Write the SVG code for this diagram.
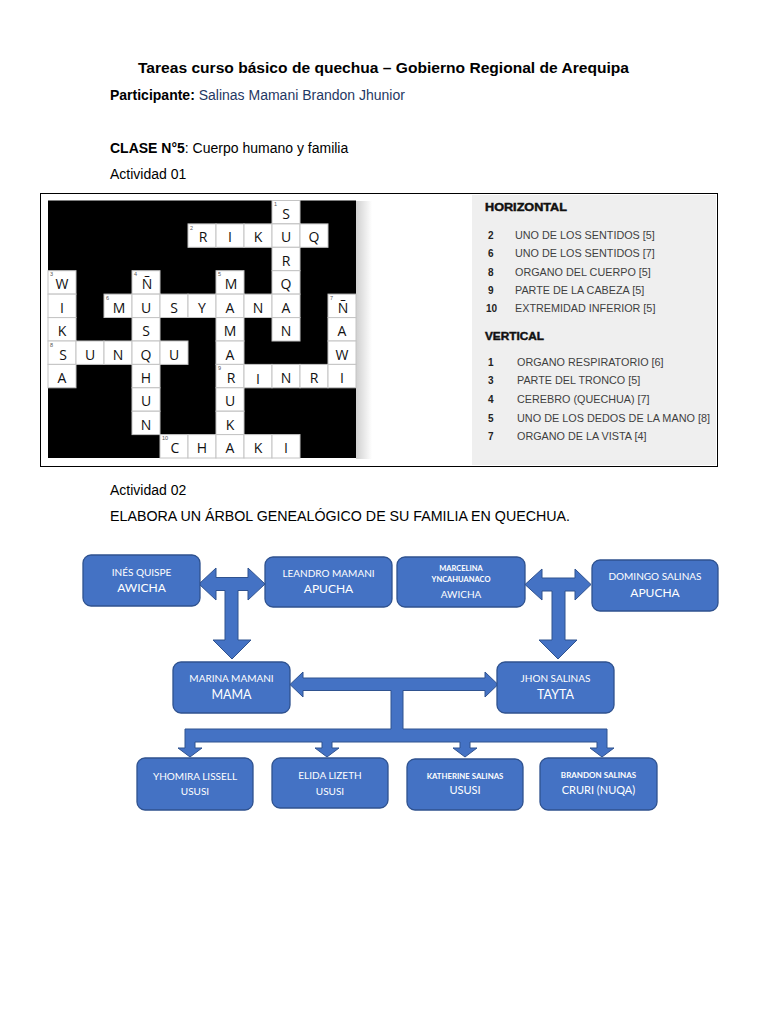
<svg xmlns="http://www.w3.org/2000/svg" width="768" height="1024" viewBox="0 0 768 1024">
<defs>
<style>
.hd{font-family:"Liberation Sans",Arial,sans-serif;font-size:14px;fill:#000}
.b{font-weight:bold}
.c{fill:#fff;stroke:#c4c4c4;stroke-width:1}
.l{font-family:"Open Sans","Liberation Sans",sans-serif;font-size:14px;fill:#111;text-anchor:middle}
.n{font-family:"Liberation Sans",sans-serif;font-size:5.5px;fill:#555}
.ch{font-family:"Liberation Sans",Arial,sans-serif;font-size:11px;font-weight:bold;fill:#111;stroke:#111;stroke-width:0.45}
.cn{font-family:"Liberation Sans",Arial,sans-serif;font-size:10px;font-weight:bold;fill:#222}
.ct{font-family:"Liberation Sans",Arial,sans-serif;font-size:10.8px;fill:#3f3f3f}
.box{fill:#4472c4;stroke:#2f528f;stroke-width:1.3}
.t{font-family:Lato,"Liberation Sans",sans-serif;fill:#fff;text-anchor:middle}
.conn{fill:#4472c4;stroke:#2f528f;stroke-width:1;stroke-linejoin:miter}
</style>
<linearGradient id="sh" x1="0" y1="0" x2="1" y2="0">
<stop offset="0" stop-color="#d0d0d0"/>
<stop offset="1" stop-color="#fff"/>
</linearGradient>
</defs>
<rect width="768" height="1024" fill="#fff"/>

<g id="header">
<text class="hd b" x="383.5" y="73" text-anchor="middle" font-size="14.5" textLength="491" lengthAdjust="spacingAndGlyphs">Tareas curso básico de quechua – Gobierno Regional de Arequipa</text>
<text class="hd" x="110" y="100"><tspan class="b">Participante:</tspan><tspan fill="#1f3864"> Salinas Mamani Brandon Jhunior</tspan></text>
<text class="hd" x="110" y="153"><tspan class="b">CLASE N°5</tspan>: Cuerpo humano y familia</text>
<text class="hd" x="110" y="179">Actividad 01</text>
<text class="hd" x="110" y="495">Actividad 02</text>
<text class="hd" x="110" y="521" textLength="460" lengthAdjust="spacingAndGlyphs">ELABORA UN ÁRBOL GENEALÓGICO DE SU FAMILIA EN QUECHUA.</text>
</g>

<g id="activity01">
<rect x="40.5" y="193.5" width="677" height="273" fill="#fff" stroke="#000" stroke-width="1"/>
<rect x="356" y="201" width="16" height="258" fill="url(#sh)"/>
<g id="crossword">
<rect x="48" y="200.5" width="308" height="257.5" fill="#000"/>
<rect class="c" x="272" y="200.5" width="28" height="23.4"/>
<rect class="c" x="188" y="223.9" width="28" height="23.4"/>
<rect class="c" x="216" y="223.9" width="28" height="23.4"/>
<rect class="c" x="244" y="223.9" width="28" height="23.4"/>
<rect class="c" x="272" y="223.9" width="28" height="23.4"/>
<rect class="c" x="300" y="223.9" width="28" height="23.4"/>
<rect class="c" x="272" y="247.3" width="28" height="23.4"/>
<rect class="c" x="48" y="270.7" width="28" height="23.4"/>
<rect class="c" x="132" y="270.7" width="28" height="23.4"/>
<rect class="c" x="216" y="270.7" width="28" height="23.4"/>
<rect class="c" x="272" y="270.7" width="28" height="23.4"/>
<rect class="c" x="48" y="294.1" width="28" height="23.4"/>
<rect class="c" x="104" y="294.1" width="28" height="23.4"/>
<rect class="c" x="132" y="294.1" width="28" height="23.4"/>
<rect class="c" x="160" y="294.1" width="28" height="23.4"/>
<rect class="c" x="188" y="294.1" width="28" height="23.4"/>
<rect class="c" x="216" y="294.1" width="28" height="23.4"/>
<rect class="c" x="244" y="294.1" width="28" height="23.4"/>
<rect class="c" x="272" y="294.1" width="28" height="23.4"/>
<rect class="c" x="328" y="294.1" width="28" height="23.4"/>
<rect class="c" x="48" y="317.6" width="28" height="23.4"/>
<rect class="c" x="132" y="317.6" width="28" height="23.4"/>
<rect class="c" x="216" y="317.6" width="28" height="23.4"/>
<rect class="c" x="272" y="317.6" width="28" height="23.4"/>
<rect class="c" x="328" y="317.6" width="28" height="23.4"/>
<rect class="c" x="48" y="341" width="28" height="23.4"/>
<rect class="c" x="76" y="341" width="28" height="23.4"/>
<rect class="c" x="104" y="341" width="28" height="23.4"/>
<rect class="c" x="132" y="341" width="28" height="23.4"/>
<rect class="c" x="160" y="341" width="28" height="23.4"/>
<rect class="c" x="216" y="341" width="28" height="23.4"/>
<rect class="c" x="328" y="341" width="28" height="23.4"/>
<rect class="c" x="48" y="364.4" width="28" height="23.4"/>
<rect class="c" x="132" y="364.4" width="28" height="23.4"/>
<rect class="c" x="216" y="364.4" width="28" height="23.4"/>
<rect class="c" x="244" y="364.4" width="28" height="23.4"/>
<rect class="c" x="272" y="364.4" width="28" height="23.4"/>
<rect class="c" x="300" y="364.4" width="28" height="23.4"/>
<rect class="c" x="328" y="364.4" width="28" height="23.4"/>
<rect class="c" x="132" y="387.8" width="28" height="23.4"/>
<rect class="c" x="216" y="387.8" width="28" height="23.4"/>
<rect class="c" x="132" y="411.2" width="28" height="23.4"/>
<rect class="c" x="216" y="411.2" width="28" height="23.4"/>
<rect class="c" x="160" y="434.6" width="28" height="23.4"/>
<rect class="c" x="188" y="434.6" width="28" height="23.4"/>
<rect class="c" x="216" y="434.6" width="28" height="23.4"/>
<rect class="c" x="244" y="434.6" width="28" height="23.4"/>
<rect class="c" x="272" y="434.6" width="28" height="23.4"/>

<text class="n" x="274" y="206">1</text>
<text class="n" x="190" y="229.5">2</text>
<text class="n" x="50" y="276.3">3</text>
<text class="n" x="134" y="276.3">4</text>
<text class="n" x="218" y="276.3">5</text>
<text class="n" x="106" y="299.7">6</text>
<text class="n" x="330" y="299.7">7</text>
<text class="n" x="50" y="346.6">8</text>
<text class="n" x="218" y="370">9</text>
<text class="n" x="162" y="440.2">10</text>

<text class="l" x="286" y="219">S</text>
<text class="l" x="203" y="242.4">R</text>
<text class="l" x="230" y="242.4">I</text>
<text class="l" x="258" y="242.4">K</text>
<text class="l" x="286" y="242.4">U</text>
<text class="l" x="314" y="242.4">Q</text>
<text class="l" x="286" y="265.8">R</text>
<text class="l" x="62" y="289.2">W</text>
<text class="l" x="147" y="289.2">Ñ</text>
<text class="l" x="231" y="289.2">M</text>
<text class="l" x="286" y="289.2">Q</text>
<text class="l" x="62" y="312.6">I</text>
<text class="l" x="119" y="312.6">M</text>
<text class="l" x="146" y="312.6">U</text>
<text class="l" x="174" y="312.6">S</text>
<text class="l" x="202" y="312.6">Y</text>
<text class="l" x="230" y="312.6">A</text>
<text class="l" x="258" y="312.6">N</text>
<text class="l" x="286" y="312.6">A</text>
<text class="l" x="343" y="312.6">Ñ</text>
<text class="l" x="62" y="336.1">K</text>
<text class="l" x="146" y="336.1">S</text>
<text class="l" x="230" y="336.1">M</text>
<text class="l" x="286" y="336.1">N</text>
<text class="l" x="342" y="336.1">A</text>
<text class="l" x="63" y="359.5">S</text>
<text class="l" x="90" y="359.5">U</text>
<text class="l" x="118" y="359.5">N</text>
<text class="l" x="146" y="359.5">Q</text>
<text class="l" x="174" y="359.5">U</text>
<text class="l" x="230" y="359.5">A</text>
<text class="l" x="342" y="359.5">W</text>
<text class="l" x="62" y="382.9">A</text>
<text class="l" x="146" y="382.9">H</text>
<text class="l" x="231" y="382.9">R</text>
<text class="l" x="258" y="383.9" fill="#5a2020">I</text>
<text class="l" x="286" y="382.9">N</text>
<text class="l" x="314" y="382.9">R</text>
<text class="l" x="342" y="382.9" fill="#5a2020">I</text>
<text class="l" x="146" y="406.3">U</text>
<text class="l" x="230" y="406.3">U</text>
<text class="l" x="146" y="429.7">N</text>
<text class="l" x="230" y="429.7">K</text>
<text class="l" x="175" y="453.1">C</text>
<text class="l" x="202" y="453.1">H</text>
<text class="l" x="230" y="453.1">A</text>
<text class="l" x="258" y="453.1">K</text>
<text class="l" x="286" y="453.1">I</text>
</g>

<g id="clues">
<rect x="472" y="195" width="244" height="270" fill="#efefef"/>
<text class="ch" x="485" y="210.7" textLength="82" lengthAdjust="spacingAndGlyphs">HORIZONTAL</text>
<text class="cn" x="488" y="239">2</text><text class="ct" x="515" y="239">UNO DE LOS SENTIDOS [5]</text>
<text class="cn" x="488" y="257.3">6</text><text class="ct" x="515" y="257.3">UNO DE LOS SENTIDOS [7]</text>
<text class="cn" x="488" y="275.6">8</text><text class="ct" x="515" y="275.6">ORGANO DEL CUERPO [5]</text>
<text class="cn" x="488" y="293.9">9</text><text class="ct" x="515" y="293.9">PARTE DE LA CABEZA [5]</text>
<text class="cn" x="486" y="312">10</text><text class="ct" x="515" y="312">EXTREMIDAD INFERIOR [5]</text>
<text class="ch" x="485" y="339.5" textLength="59" lengthAdjust="spacingAndGlyphs">VERTICAL</text>
<text class="cn" x="488" y="366">1</text><text class="ct" x="517" y="366">ORGANO RESPIRATORIO [6]</text>
<text class="cn" x="488" y="384.4">3</text><text class="ct" x="517" y="384.4">PARTE DEL TRONCO [5]</text>
<text class="cn" x="488" y="403">4</text><text class="ct" x="517" y="403">CEREBRO (QUECHUA) [7]</text>
<text class="cn" x="488" y="421.6">5</text><text class="ct" x="517" y="421.6" textLength="193" lengthAdjust="spacingAndGlyphs">UNO DE LOS DEDOS DE LA MANO [8]</text>
<text class="cn" x="488" y="440">7</text><text class="ct" x="517" y="440">ORGANO DE LA VISTA [4]</text>
</g>
</g>

<g id="connectors">
<polygon class="conn" points="199,584 216,568 216,577.5 248,577.5 248,568 265,584 248,600 248,590.5 238,590.5 238,640 251,640 232,659 213,640 225,640 225,590.5 216,590.5 216,600"/>
<polygon class="conn" points="525,584.5 542,569 542,578 575,578 575,569 591,584.5 575,600 575,591 565,591 565,640 577,640 558,659 539,640 552,640 552,591 542,591 542,600"/>
<polygon class="conn" points="290,684.5 303,672 303,678 485,678 485,672 498,684.5 485,697 485,690.5 403,690.5 403,729 607,729 607,748 614,748 602,757 590,748 597,748 597,742 470,742 470,748 477,748 465,757 453,748 460,748 460,742 332,742 332,748 339,748 327,757 315,748 322,748 322,742 195,742 195,748 202,748 190,757 178,748 185,748 185,729 391,729 391,690.5 303,690.5 303,697"/>
</g>

<g id="ines">
<rect class="box" x="83" y="555" width="117" height="51" rx="8"/>
<text class="t" x="141.5" y="576" font-size="10">INÉS QUISPE</text>
<text class="t" x="141.5" y="592" font-size="12">AWICHA</text>
</g>
<g id="leandro">
<rect class="box" x="265" y="557" width="127" height="50" rx="8"/>
<text class="t" x="328.5" y="577" font-size="10">LEANDRO MAMANI</text>
<text class="t" x="328.5" y="593" font-size="12">APUCHA</text>
</g>
<g id="marcelina">
<rect class="box" x="397" y="557" width="128" height="50" rx="8"/>
<text class="t" x="461" y="570.7" font-size="7.5" font-weight="bold">MARCELINA</text>
<text class="t" x="461" y="582.3" font-size="7.5" font-weight="bold">YNCAHUANACO</text>
<text class="t" x="461" y="597.7" font-size="10">AWICHA</text>
</g>
<g id="domingo">
<rect class="box" x="592" y="560" width="126" height="51" rx="8"/>
<text class="t" x="655" y="580" font-size="10">DOMINGO SALINAS</text>
<text class="t" x="655" y="597" font-size="12">APUCHA</text>
</g>
<g id="marina">
<rect class="box" x="173" y="662" width="117" height="51" rx="8"/>
<text class="t" x="231.5" y="681.7" font-size="10">MARINA MAMANI</text>
<text class="t" x="231.5" y="699.3" font-size="12.5">MAMA</text>
</g>
<g id="jhon">
<rect class="box" x="497" y="662" width="117" height="51" rx="8"/>
<text class="t" x="555.5" y="681.7" font-size="10">JHON SALINAS</text>
<text class="t" x="555.5" y="699.3" font-size="12.5">TAYTA</text>
</g>
<g id="yhomira">
<rect class="box" x="137" y="758" width="116" height="52" rx="8"/>
<text class="t" x="195" y="780" font-size="10">YHOMIRA LISSELL</text>
<text class="t" x="195" y="795" font-size="10">USUSI</text>
</g>
<g id="elida">
<rect class="box" x="272" y="758" width="116" height="50" rx="8"/>
<text class="t" x="330" y="779" font-size="10">ELIDA LIZETH</text>
<text class="t" x="330" y="795" font-size="10">USUSI</text>
</g>
<g id="katherine">
<rect class="box" x="407" y="759" width="116" height="51" rx="8"/>
<text class="t" x="465" y="779" font-size="7.8" font-weight="bold">KATHERINE SALINAS</text>
<text class="t" x="465" y="794" font-size="11">USUSI</text>
</g>
<g id="brandon">
<rect class="box" x="540" y="758" width="117" height="52" rx="8"/>
<text class="t" x="598.5" y="778.3" font-size="8" font-weight="bold">BRANDON SALINAS</text>
<text class="t" x="598.5" y="794" font-size="11">CRURI (NUQA)</text>
</g>
</svg>
